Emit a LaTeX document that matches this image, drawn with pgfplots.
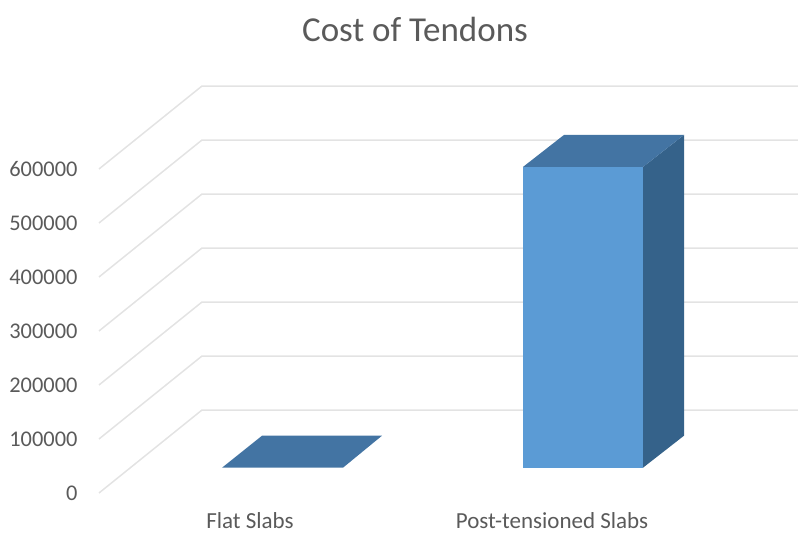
\documentclass[border=0pt]{standalone}
\usepackage{fontspec}
\setmainfont{Carlito}
\usepackage{pgfplots}
\pgfplotsset{compat=1.18}
\definecolor{barfront}{HTML}{5B9BD5}
\definecolor{bartop}{HTML}{4374A3}
\definecolor{barside}{HTML}{35628A}
\definecolor{wall}{HTML}{E3E3E3}
\definecolor{ink}{HTML}{5A5A5A}
\begin{document}
\begin{tikzpicture}[x=1pt,y=1pt]
\useasboundingbox (-82,0) rectangle (716,533);
\begin{axis}[
  at={(0,0)}, anchor=south west,
  scale only axis, width=716pt, height=533pt,
  xmin=82, xmax=798, ymin=-120926, ymax=866111,
  clip=false,
  axis line style={draw=none},
  major tick length=0pt,
  xtick={250,552},
  xticklabels={Flat Slabs,Post-tensioned Slabs},
  xticklabel style={font=\fontsize{23}{23}\selectfont, text=ink, anchor=base, yshift=5pt},
  ytick={-46852,53148,153148,253148,353148,453148,553148},
  yticklabels={0,100000,200000,300000,400000,500000,600000},
  yticklabel style={font=\fontsize{22.4}{22.4}\selectfont, text=ink, anchor=east, xshift=-1pt},
  scaled y ticks=false,
]
% Floor-to-wall gridlines: front edge, back corner, far end of the wall
\addplot[wall, line width=1.5pt] coordinates {(99,-46852) (202,106852) (798,106852)};
\addplot[wall, line width=1.5pt] coordinates {(99,53148) (202,206852) (798,206852)};
\addplot[wall, line width=1.5pt] coordinates {(99,153148) (202,306852) (798,306852)};
\addplot[wall, line width=1.5pt] coordinates {(99,253148) (202,406852) (798,406852)};
\addplot[wall, line width=1.5pt] coordinates {(99,353148) (202,506852) (798,506852)};
\addplot[wall, line width=1.5pt] coordinates {(99,453148) (202,606852) (798,606852)};
\addplot[wall, line width=1.5pt] coordinates {(99,553148) (202,706852) (798,706852)};
% Flat Slabs: value close to zero, only the top face shows
\addplot[fill=bartop, draw=none] coordinates {(222,0) (343,0) (382,59259) (262,59259)} -- cycle;
% Post-tensioned Slabs: side, top and front faces
\addplot[fill=barside, draw=none] coordinates {(643,0) (684,59259) (684,616259) (643,557000)} -- cycle;
\addplot[fill=bartop, draw=none] coordinates {(523,557000) (643,557000) (684,616259) (564,616259)} -- cycle;
\addplot[fill=barfront, draw=none] coordinates {(523,0) (643,0) (643,557000) (523,557000)} -- cycle;
\node[font=\fontsize{35}{35}\selectfont, text=ink] at (axis cs:415,812000) {Cost of Tendons};
\end{axis}
\end{tikzpicture}
\end{document}
